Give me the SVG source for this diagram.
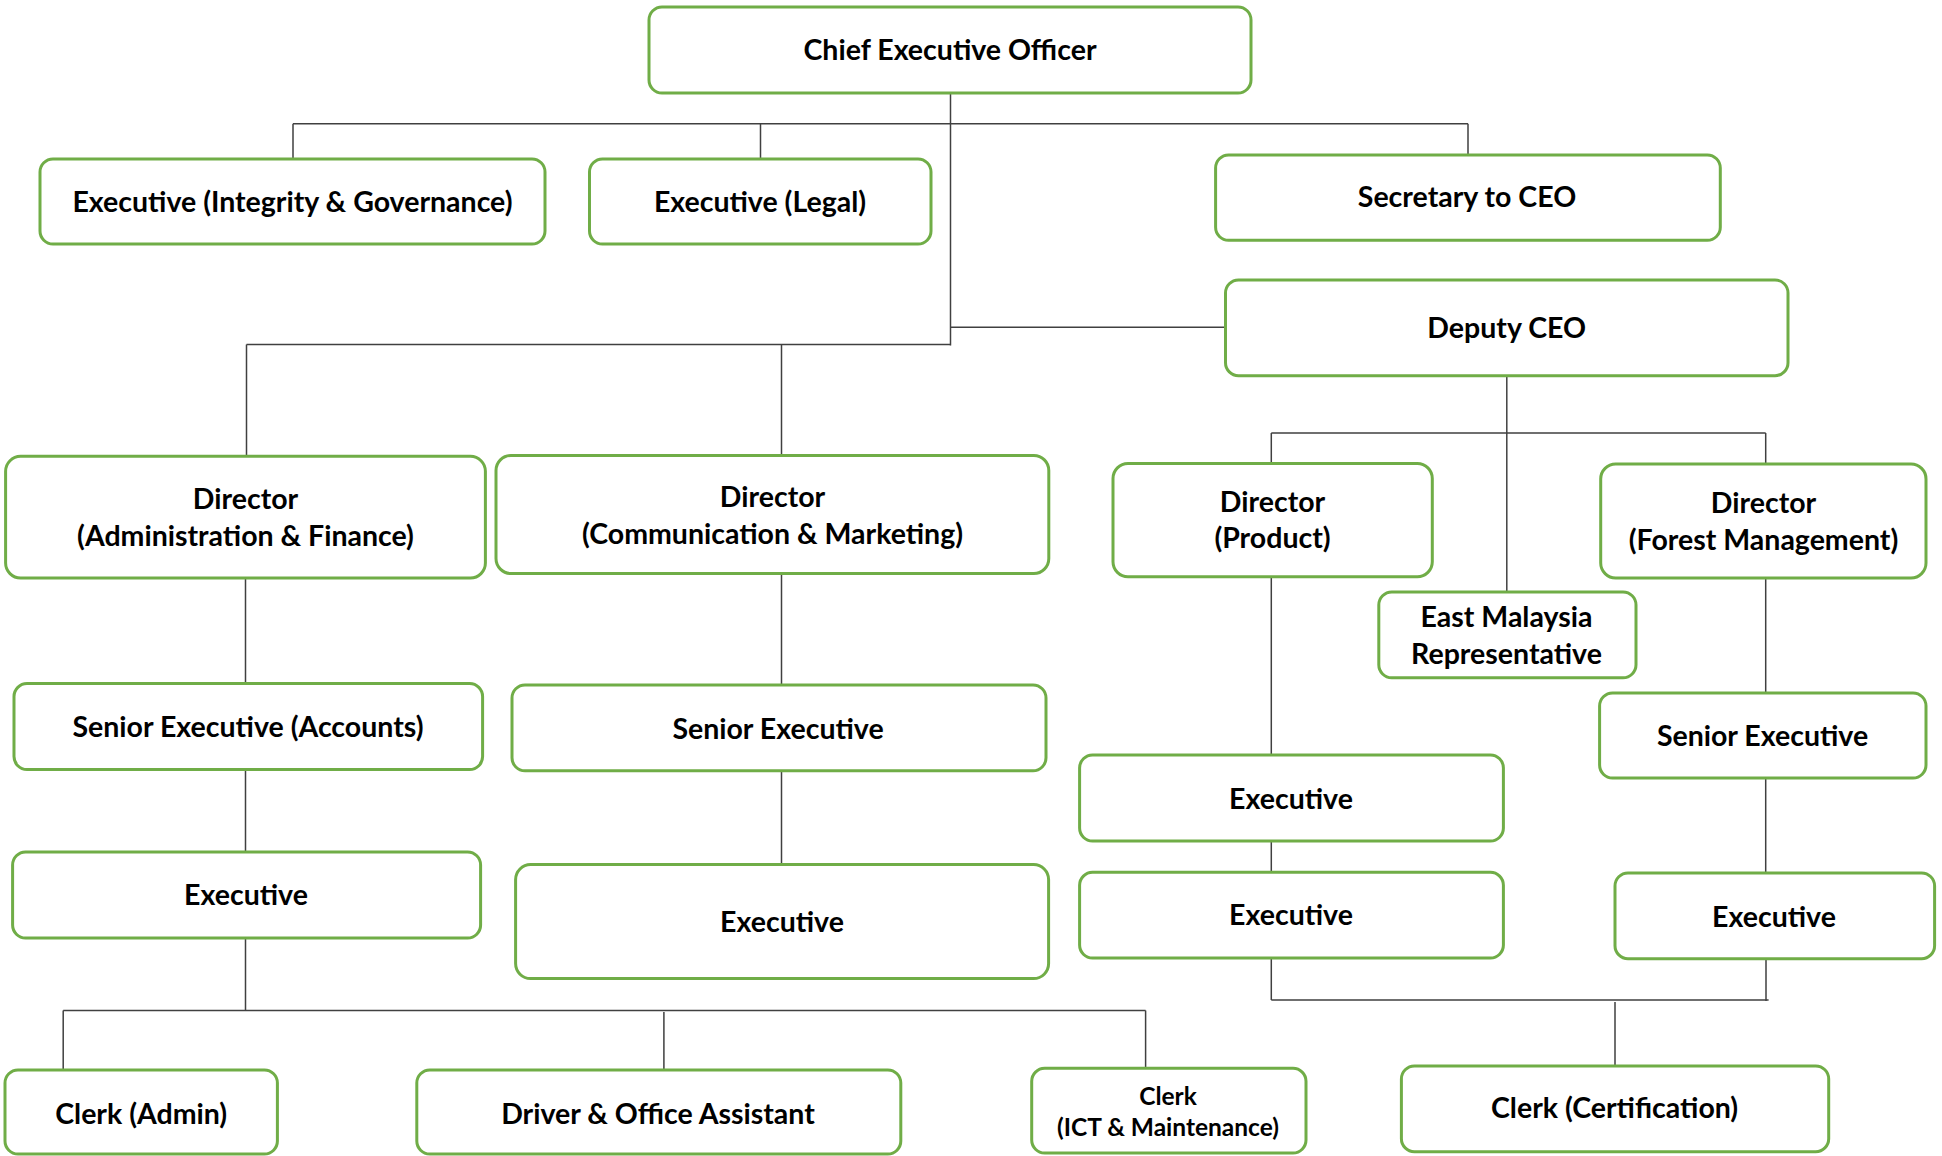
<svg xmlns="http://www.w3.org/2000/svg" width="1942" height="1156" viewBox="0 0 1942 1156">
<style>
.box{fill:#ffffff;stroke:#70AD47;stroke-width:3}
.t{font-family:Lato,"Open Sans","Liberation Sans",sans-serif;font-weight:bold;font-size:28.5px;fill:#000000;text-anchor:middle}
.s{font-size:24.5px}
.c{fill:none;stroke:#404040;stroke-width:1.5}
</style>
<rect width="1942" height="1156" fill="#ffffff"/>
<g id="connectors">
<path class="c" d="M950.5,93 V345.5"/>
<path class="c" d="M293,123.7 H1468"/>
<path class="c" d="M293,123.7 V159 M760.5,123.7 V159 M1468,123.7 V155"/>
<path class="c" d="M950.5,327.3 H1225.5"/>
<path class="c" d="M246.5,344.5 H950.5"/>
<path class="c" d="M246.5,344.5 V456.3 M781.5,345 V455.5"/>
<path class="c" d="M245.5,578 V683.6 M245.5,769.7 V852 M245.5,938 V1011"/>
<path class="c" d="M781.5,573.4 V685 M781.5,770.8 V864.6"/>
<path class="c" d="M63.2,1010.5 H1145.6 M63.2,1010.5 V1070 M663.9,1012 V1070 M1145.6,1010.5 V1068.3"/>
<path class="c" d="M1506.8,375.7 V592"/>
<path class="c" d="M1271.3,433 H1765.7 M1271.3,433 V463.5 M1765.7,433 V464"/>
<path class="c" d="M1271.3,576.8 V755 M1271.3,841 V872.3 M1271.3,958 V1000"/>
<path class="c" d="M1765.7,578 V693 M1765.7,778 V873 M1766,958.7 V1001"/>
<path class="c" d="M1271.3,1000 H1768.6 M1615,1002 V1066"/>
</g>
<g id="ceo"><rect class="box" x="649" y="7" width="602" height="86" rx="13"/><text class="t" x="950" y="60">Chief Executive Officer</text></g>
<g id="exec-ig"><rect class="box" x="40" y="159" width="505" height="85" rx="13"/><text class="t" x="292.5" y="212">Executive (Integrity &amp; Governance)</text></g>
<g id="exec-legal"><rect class="box" x="589.5" y="159" width="341.5" height="85" rx="13"/><text class="t" x="760" y="212">Executive (Legal)</text></g>
<g id="secretary"><rect class="box" x="1215.6" y="155" width="504.7" height="85.3" rx="13"/><text class="t" x="1467" y="207">Secretary to CEO</text></g>
<g id="deputy"><rect class="box" x="1225.5" y="280" width="562.5" height="95.7" rx="13"/><text class="t" x="1506.7" y="338">Deputy CEO</text></g>
<g id="dir-af"><rect class="box" x="5.6" y="456.3" width="479.8" height="121.7" rx="15"/><text class="t" x="245.5" y="509">Director</text><text class="t" x="245.5" y="546">(Administration &amp; Finance)</text></g>
<g id="dir-cm"><rect class="box" x="496" y="455.5" width="552.8" height="118" rx="15"/><text class="t" x="772.5" y="507">Director</text><text class="t" x="772.5" y="544">(Communication &amp; Marketing)</text></g>
<g id="dir-product"><rect class="box" x="1113" y="463.5" width="319.3" height="113.3" rx="15"/><text class="t" x="1272.5" y="512">Director</text><text class="t" x="1272.5" y="548">(Product)</text></g>
<g id="dir-fm"><rect class="box" x="1600.7" y="464" width="325.3" height="114" rx="15"/><text class="t" x="1763.5" y="513">Director</text><text class="t" x="1763.5" y="550">(Forest Management)</text></g>
<g id="east-malaysia"><rect class="box" x="1378.8" y="592" width="257.2" height="85.8" rx="13"/><text class="t" x="1506.5" y="626.6">East Malaysia</text><text class="t" x="1506.5" y="664">Representative</text></g>
<g id="sr-accounts"><rect class="box" x="14" y="683.6" width="468.6" height="86" rx="13"/><text class="t" x="248" y="737">Senior Executive (Accounts)</text></g>
<g id="sr-cm"><rect class="box" x="512" y="685" width="534" height="85.8" rx="13"/><text class="t" x="778" y="739">Senior Executive</text></g>
<g id="sr-fm"><rect class="box" x="1599.6" y="693" width="326.4" height="85" rx="13"/><text class="t" x="1762.5" y="746">Senior Executive</text></g>
<g id="exec-af"><rect class="box" x="12.6" y="852" width="468" height="86" rx="13"/><text class="t" x="246" y="905">Executive</text></g>
<g id="exec-cm"><rect class="box" x="515.6" y="864.6" width="533" height="114" rx="15"/><text class="t" x="782" y="932">Executive</text></g>
<g id="exec-p1"><rect class="box" x="1079.6" y="755" width="423.8" height="86" rx="13"/><text class="t" x="1291" y="809">Executive</text></g>
<g id="exec-p2"><rect class="box" x="1079.6" y="872.3" width="423.8" height="85.7" rx="13"/><text class="t" x="1291" y="925">Executive</text></g>
<g id="exec-fm"><rect class="box" x="1615" y="873" width="319.6" height="85.7" rx="13"/><text class="t" x="1774" y="927">Executive</text></g>
<g id="clerk-admin"><rect class="box" x="5" y="1070" width="272.4" height="84" rx="13"/><text class="t" x="141.2" y="1124">Clerk (Admin)</text></g>
<g id="driver"><rect class="box" x="416.8" y="1070" width="484" height="84" rx="13"/><text class="t" x="658" y="1124">Driver &amp; Office Assistant</text></g>
<g id="clerk-ict"><rect class="box" x="1031.7" y="1068.3" width="274.3" height="84.7" rx="13"/><text class="t s" x="1168" y="1105">Clerk</text><text class="t s" x="1168" y="1136">(ICT &amp; Maintenance)</text></g>
<g id="clerk-cert"><rect class="box" x="1401.4" y="1066" width="427.3" height="85.7" rx="13"/><text class="t" x="1614.6" y="1118">Clerk (Certification)</text></g>
</svg>
